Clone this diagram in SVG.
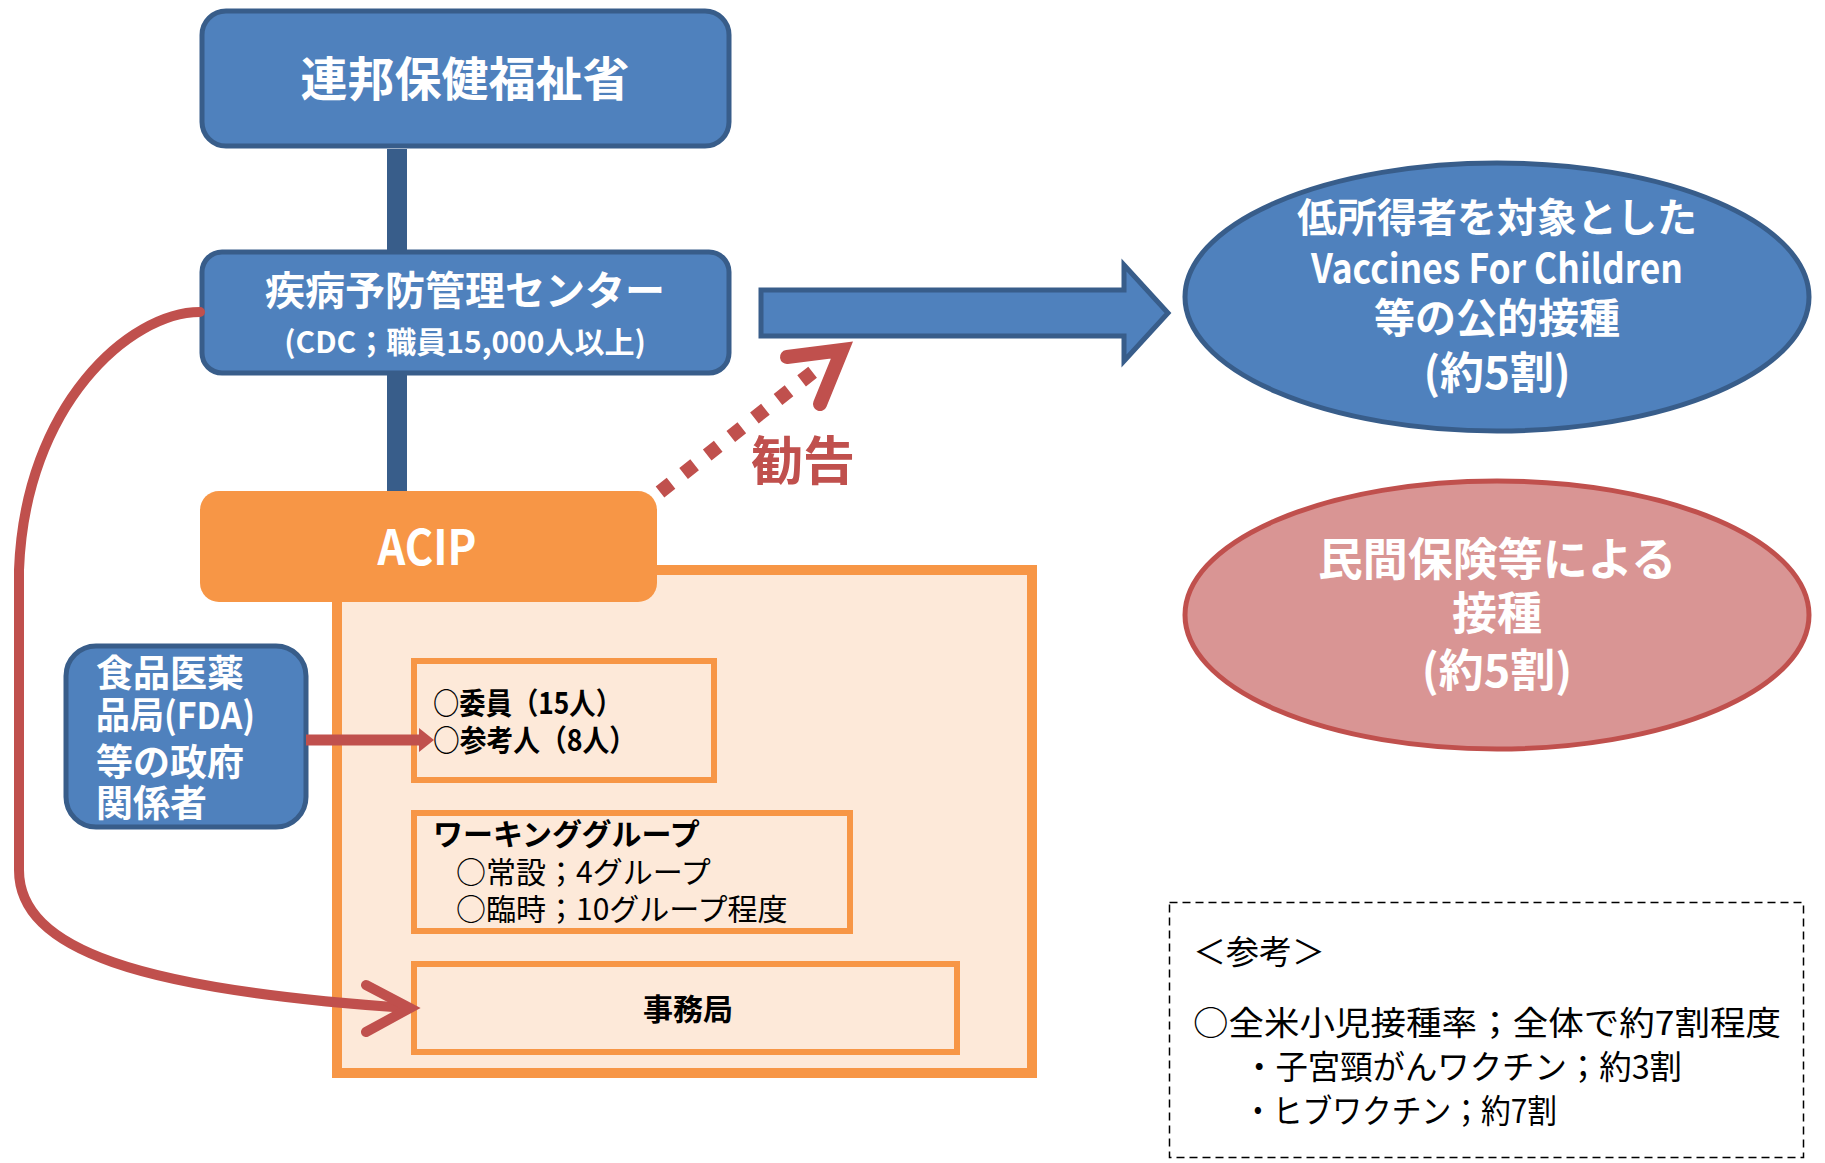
<svg xmlns="http://www.w3.org/2000/svg" width="1825" height="1163" viewBox="0 0 1825 1163">
<defs>
<style>
text{font-family:'Noto Sans CJK JP','Noto Sans',sans-serif}
.w{fill:#fff;font-weight:700}
.b{fill:#000}
.bb{fill:#000;font-weight:700}
.blue{fill:#4F81BD;stroke:#385D8A;stroke-width:5}
.inner{fill:#FDE9D9;stroke:#F79646;stroke-width:6}
.red{fill:none;stroke:#C0504D;stroke-width:10;stroke-linecap:round}
.bar{stroke:#385D8A;stroke-width:20}
</style>
</defs>
<rect width="1825" height="1163" fill="#fff"/>

<g id="hhs">
<rect class="blue" x="202" y="11" width="527" height="135" rx="24"/>
<text class="w" x="465" y="96" text-anchor="middle" font-size="47">連邦保健福祉省</text>
</g>

<g id="cdc">
<rect class="blue" x="202" y="252" width="527" height="121" rx="20"/>
<text class="w" x="465" y="305" text-anchor="middle" font-size="40">疾病予防管理センター</text>
<text class="w" x="465" y="353" text-anchor="middle" font-size="30">(CDC；職員15,000人以上)</text>
</g>

<g id="acip">
<rect x="337" y="570" width="695" height="503" fill="#FDE9D9" stroke="#F79646" stroke-width="10"/>
<rect x="200" y="491" width="457" height="111" rx="19" fill="#F79646"/>
<text class="w" x="427" y="565" text-anchor="middle" font-size="48" textLength="99" lengthAdjust="spacingAndGlyphs">ACIP</text>
</g>

<g id="members">
<rect class="inner" x="414" y="661" width="300" height="119"/>
<text class="bb" x="433" y="714" font-size="30" textLength="189" lengthAdjust="spacingAndGlyphs">○委員（15人）</text>
<text class="bb" x="433" y="751" font-size="30" textLength="203" lengthAdjust="spacingAndGlyphs">○参考人（8人）</text>
</g>

<g id="working-group">
<rect class="inner" x="414" y="813" width="436" height="118"/>
<text class="bb" x="433" y="845" font-size="30">ワーキンググループ</text>
<text class="b" x="456" y="883" font-size="30">○常設；4グループ</text>
<text class="b" x="456" y="920" font-size="30">○臨時；10グループ程度</text>
</g>

<g id="secretariat">
<rect class="inner" x="414" y="964" width="543" height="88"/>
<text class="bb" x="688" y="1020" text-anchor="middle" font-size="30">事務局</text>
</g>

<g id="fda">
<rect class="blue" x="66" y="646" width="240" height="181" rx="30"/>
<text class="w" x="96" y="687" font-size="37">食品医薬</text>
<text class="w" x="96" y="729" font-size="37" textLength="159" lengthAdjust="spacingAndGlyphs">品局(FDA)</text>
<text class="w" x="96" y="776" font-size="37">等の政府</text>
<text class="w" x="96" y="817" font-size="37">関係者</text>
</g>

<g id="public-vaccination">
<ellipse class="blue" cx="1497" cy="297" rx="312" ry="134"/>
<text class="w" x="1497" y="232" text-anchor="middle" font-size="40">低所得者を対象とした</text>
<text class="w" x="1497" y="283" text-anchor="middle" font-size="40" textLength="372" lengthAdjust="spacingAndGlyphs">Vaccines For Children</text>
<text class="w" x="1497" y="333" text-anchor="middle" font-size="41">等の公的接種</text>
<text class="w" x="1497" y="389" text-anchor="middle" font-size="44">(約5割)</text>
</g>

<g id="private-vaccination">
<ellipse cx="1497" cy="615" rx="312" ry="134" fill="#D99594" stroke="#C0504D" stroke-width="5"/>
<text class="w" x="1497" y="576" text-anchor="middle" font-size="45">民間保険等による</text>
<text class="w" x="1497" y="630" text-anchor="middle" font-size="45">接種</text>
<text class="w" x="1497" y="687" text-anchor="middle" font-size="45">(約5割)</text>
</g>

<g id="reference">
<rect x="1169.5" y="902.5" width="634" height="255" fill="none" stroke="#000" stroke-width="1.5" stroke-dasharray="8 5"/>
<text class="b" x="1193" y="964" font-size="33">＜参考＞</text>
<text class="b" x="1193" y="1035" font-size="33" textLength="588" lengthAdjust="spacingAndGlyphs">○全米小児接種率；全体で約7割程度</text>
<text class="b" x="1243" y="1079" font-size="33" textLength="439" lengthAdjust="spacingAndGlyphs">・子宮頸がんワクチン；約3割</text>
<text class="b" x="1243" y="1123" font-size="33" textLength="314" lengthAdjust="spacingAndGlyphs">・ヒブワクチン；約7割</text>
</g>

<g id="recommend-label">
<text x="803" y="480" text-anchor="middle" font-size="52" font-weight="700" fill="#C0504D">勧告</text>
</g>

<g id="connectors">
<line class="bar" x1="397" y1="149" x2="397" y2="250"/>
<line class="bar" x1="397" y1="375" x2="397" y2="491"/>
<polygon class="blue" points="761,290 1124,290 1124,265 1168,313 1124,361 1124,336 761,336"/>
<path class="red" stroke-linecap="butt" d="M200,312 C130,312 25,405 19,570 L19,870 C19,950 140,990 408,1008"/>
<path class="red" stroke-width="11" d="M366,985 L410,1008 L366,1032"/>
<line x1="306" y1="740" x2="421" y2="740" stroke="#C0504D" stroke-width="11"/>
<polygon points="419,728 434,740 419,752" fill="#C0504D"/>
<line x1="660" y1="492" x2="818" y2="368" stroke="#C0504D" stroke-width="14" stroke-dasharray="14 16"/>
<path d="M787,357 L842,350 L820,404" fill="none" stroke="#C0504D" stroke-width="14" stroke-linecap="round" stroke-linejoin="miter"/>
</g>
</svg>
